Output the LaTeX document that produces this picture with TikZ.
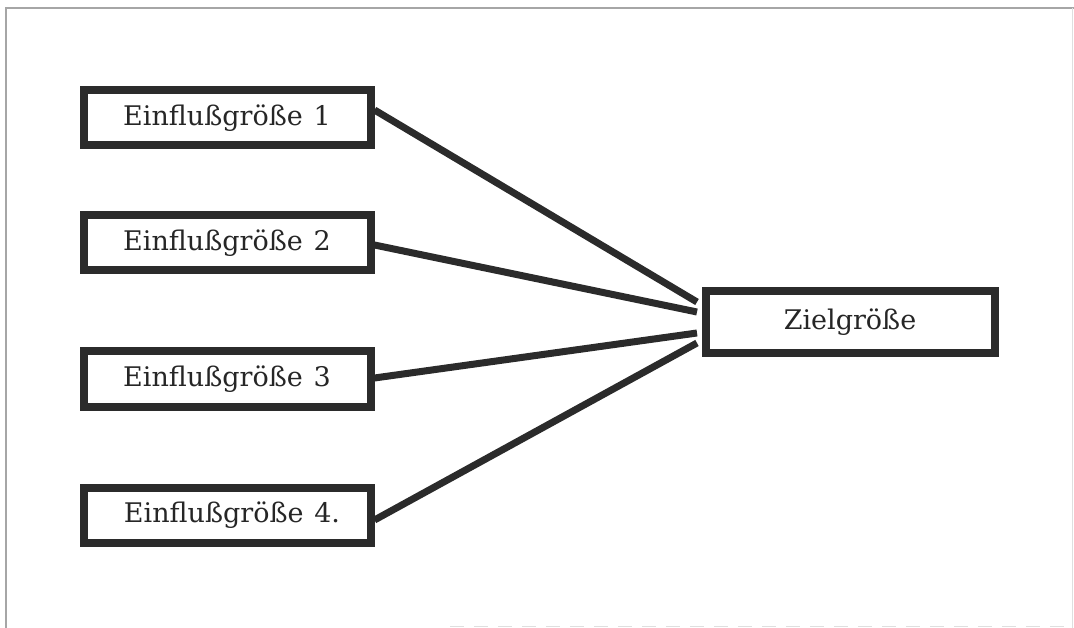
\documentclass[tikz,border=0pt]{standalone}
\usepackage{fontspec}
\setmainfont{DejaVu Serif}
\usetikzlibrary{calc}
\definecolor{ink}{HTML}{2B2B2B}
\tikzset{
  box/.style={draw=ink, line width=8pt, fill=white, minimum width=287pt, minimum height=55pt, inner sep=0pt, font=\fontsize{27}{31}\selectfont, text=black!85},
  zbox/.style={box, minimum width=289pt, minimum height=62pt},
  conn/.style={draw=ink, line width=7pt},
  frameline/.style={draw=gray!70, line width=1.2pt}
}
\begin{document}
\begin{tikzpicture}[x=1pt,y=-1pt]
\useasboundingbox (0,0) rectangle (1074,628);
\draw[frameline] (6,628) -- (6,8) -- (1074,8);
\draw[draw=gray!25, line width=1pt] (1072,8) -- (1072,628);
\draw[draw=gray!25, line width=1pt, dash pattern=on 14pt off 10pt] (450,626) -- (1072,626);
\node[box] (e1) at (227,118) {Einflußgröße\hspace{0.4em}1};
\node[box] (e2) at (227,243) {Einflußgröße\hspace{0.4em}2};
\node[box] (e3) at (227,379) {Einflußgröße\hspace{0.4em}3};
\node[box] (e4) at (227,515) {\hspace{10pt}Einflußgröße\hspace{0.4em}4.};
\node[zbox] (z) at (850,322.5) {Zielgröße};
\coordinate (t1) at (697,302);
\coordinate (t2) at (697,312);
\coordinate (t3) at (697,333);
\coordinate (t4) at (697,343);
\draw[conn] ($(e1.east)+(0,-8)$) -- (t1);
\draw[conn] ($(e2.east)+(0,2)$) -- (t2);
\draw[conn] ($(e3.east)+(0,-1)$) -- (t3);
\draw[conn] ($(e4.east)+(0,5)$) -- (t4);
\end{tikzpicture}
\end{document}
